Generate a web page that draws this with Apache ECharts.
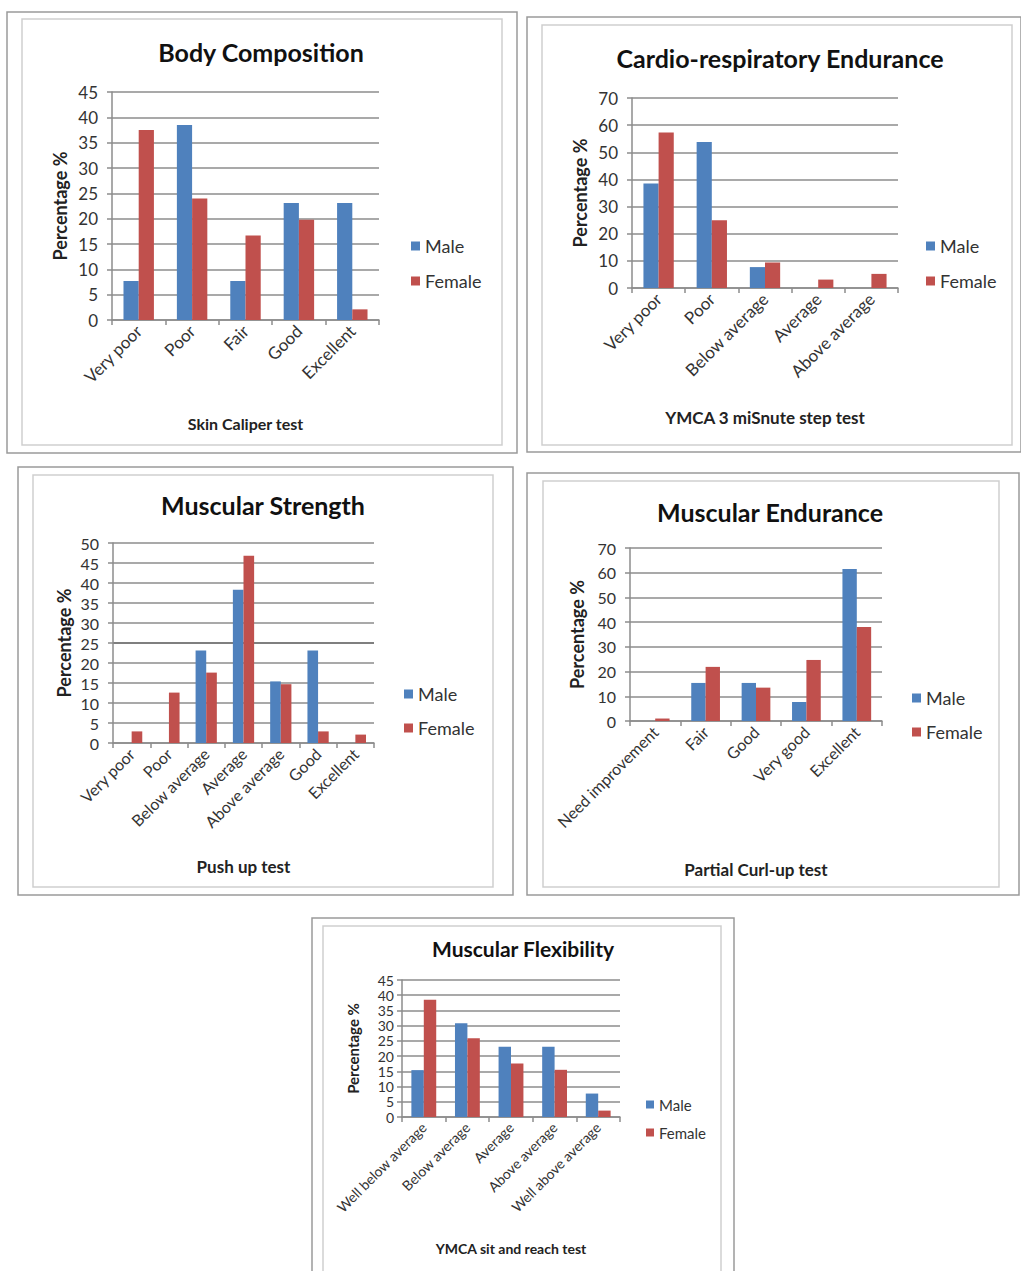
<!DOCTYPE html>
<html><head><meta charset="utf-8">
<script src="https://cdn.jsdelivr.net/npm/echarts@6/dist/echarts.min.js"></script>
<style>html,body{margin:0;padding:0;background:#fff}#c{width:1021px;height:1271px}</style>
</head><body><div id="c"></div>
<script>
// ---- data ----
const bodyCategories = ['Very poor', 'Poor', 'Fair', 'Good', 'Excellent'];
const bodyMale = [7.7, 38.5, 7.7, 23.1, 23.1];
const bodyFemale = [37.5, 24.0, 16.7, 19.8, 2.1];

const cardioCategories = ['Very poor', 'Poor', 'Below average', 'Average', 'Above average'];
const cardioMale = [38.5, 53.8, 7.7, 0, 0];
const cardioFemale = [57.3, 25.0, 9.4, 3.1, 5.2];

const strengthCategories = ['Very poor', 'Poor', 'Below average', 'Average', 'Above average', 'Good', 'Excellent'];
const strengthMale = [0, 0, 23.1, 38.3, 15.4, 23.1, 0];
const strengthFemale = [2.9, 12.6, 17.6, 46.8, 14.7, 2.9, 2.1];

const enduranceCategories = ['Need improvement', 'Fair', 'Good', 'Very good', 'Excellent'];
const enduranceMale = [0, 15.4, 15.4, 7.7, 61.5];
const enduranceFemale = [1.0, 21.9, 13.5, 24.7, 38.0];

const flexCategories = ['Well below average', 'Below average', 'Average', 'Above average', 'Well above average'];
const flexMale = [15.4, 30.8, 23.1, 23.1, 7.7];
const flexFemale = [38.5, 25.9, 17.6, 15.5, 2.1];

const seriesNames = ['Male', 'Female'];
const yAxisTitle = 'Percentage %';
const chartTitles = ['Body Composition', 'Cardio-respiratory Endurance', 'Muscular Strength', 'Muscular Endurance', 'Muscular Flexibility'];
const xAxisTitles = ['Skin Caliper test', 'YMCA 3 miSnute step test', 'Push up test', 'Partial Curl-up test', 'YMCA sit and reach test'];
const yMaxes = [45, 70, 50, 70, 45];
const yIntervals = [5, 10, 5, 10, 5];

// ---- layout ----
const FONT = 'Lato, "Open Sans", sans-serif';
const BLUE = '#4F81BD', RED = '#C0504D', GRID = '#8c8c8c';
const panels = [
  {cats: bodyCategories, male: bodyMale, female: bodyFemale,
   outer: [7, 12, 510, 441], inner: [22, 19, 480, 426],
   grid: {left: 112, top: 92, width: 267, height: 228},
   tc: [261, 52], tfs: 25, tick: 17, tickM: 14, cat: 17, xfs: 16, yfs: 18, xGap: 95, yGap: 43,
   lg: {left: 411, top: 236, fs: 18, gap: 15, sq: 9}},
  {cats: cardioCategories, male: cardioMale, female: cardioFemale,
   outer: [527, 17, 494, 435], inner: [542, 25, 470, 420],
   grid: {left: 632, top: 98, width: 266, height: 190},
   tc: [780, 58], tfs: 25, tick: 17, tickM: 14, cat: 17, xfs: 17, yfs: 18, xGap: 121, yGap: 43,
   lg: {left: 926, top: 236, fs: 18, gap: 15, sq: 9}},
  {cats: strengthCategories, male: strengthMale, female: strengthFemale,
   outer: [18, 467, 495, 428], inner: [33, 475, 460, 412],
   grid: {left: 113, top: 543, width: 261, height: 200},
   tc: [263, 505], tfs: 25, tick: 16, tickM: 14, cat: 16, xfs: 17, yfs: 18, xGap: 115, yGap: 40,
   lg: {left: 404, top: 684, fs: 18, gap: 14, sq: 9}},
  {cats: enduranceCategories, male: enduranceMale, female: enduranceFemale,
   outer: [527, 473, 492, 422], inner: [543, 481, 456, 406],
   grid: {left: 630, top: 548, width: 252, height: 173},
   tc: [770, 512], tfs: 25, tick: 16, tickM: 14, cat: 16, xfs: 17, yfs: 18, xGap: 140, yGap: 44,
   lg: {left: 912, top: 688, fs: 18, gap: 14, sq: 9}},
  {cats: flexCategories, male: flexMale, female: flexFemale,
   outer: [312, 918, 422, 420], inner: [323, 926, 398, 420],
   grid: {left: 402, top: 980, width: 218, height: 137},
   tc: [523, 948], tfs: 21, tick: 14, tickM: 8, cat: 14, xfs: 14, yfs: 15, xGap: 124, yGap: 42,
   lg: {left: 646, top: 1096, fs: 15, gap: 11, sq: 8}}
];

const option = {
  animation: false,
  backgroundColor: '#fff',
  grid: [], xAxis: [], yAxis: [], series: [], legend: [], graphic: []
};

panels.forEach((p, i) => {
  option.graphic.push({type: 'rect', z: -1, shape: {x: p.outer[0], y: p.outer[1], width: p.outer[2], height: p.outer[3]},
    style: {fill: '#fff', stroke: '#9a9a9a', lineWidth: 1.5}});
  option.graphic.push({type: 'rect', z: -1, shape: {x: p.inner[0], y: p.inner[1], width: p.inner[2], height: p.inner[3]},
    style: {fill: 'none', stroke: '#cfcfcf', lineWidth: 1.5}});
  option.graphic.push({type: 'text', x: p.tc[0], y: p.tc[1],
    style: {text: chartTitles[i], fill: '#111', font: 'bold ' + p.tfs + 'px ' + FONT, align: 'center', verticalAlign: 'middle'}});

  option.grid.push(Object.assign({outerBoundsMode: 'none', containLabel: false}, p.grid));
  option.xAxis.push({
    type: 'category', gridIndex: i, data: p.cats,
    axisLine: {show: true, lineStyle: {color: GRID, width: 1.5}},
    axisTick: {show: true, interval: 0, alignWithLabel: false, length: 5, lineStyle: {color: GRID, width: 1.5}},
    axisLabel: {interval: 0, rotate: 45, fontSize: p.cat, color: '#333', fontFamily: FONT, margin: 8},
    splitLine: {show: false},
    name: xAxisTitles[i], nameLocation: 'middle', nameGap: p.xGap,
    nameTextStyle: {fontWeight: 'bold', fontSize: p.xfs, color: '#222', fontFamily: FONT}
  });
  const splitColors = [];
  for (let v = 0; v <= yMaxes[i]; v += yIntervals[i]) splitColors.push(i === 2 && v === 25 ? '#555' : GRID);
  option.yAxis.push({
    type: 'value', gridIndex: i, min: 0, max: yMaxes[i], interval: yIntervals[i],
    axisLine: {show: true, lineStyle: {color: GRID, width: 1.5}},
    axisTick: {show: true, length: 5, lineStyle: {color: GRID, width: 1.5}},
    splitLine: {show: true, lineStyle: {color: splitColors, width: 1.5}},
    axisLabel: {fontSize: p.tick, color: '#333', fontFamily: FONT, margin: p.tickM},
    name: yAxisTitle, nameLocation: 'middle', nameRotate: 90, nameGap: p.yGap,
    nameTextStyle: {fontWeight: 'bold', fontSize: p.yfs, color: '#222', fontFamily: FONT}
  });
  [p.male, p.female].forEach((vals, k) => {
    option.series.push({
      type: 'bar', name: seriesNames[k], xAxisIndex: i, yAxisIndex: i, data: vals,
      barGap: '0%', barCategoryGap: '43%',
      itemStyle: {color: k === 0 ? BLUE : RED}
    });
  });
  option.legend.push({
    orient: 'vertical', left: p.lg.left, top: p.lg.top, padding: 0,
    itemWidth: p.lg.sq, itemHeight: p.lg.sq, itemGap: p.lg.gap, icon: 'rect',
    data: seriesNames, selectedMode: false,
    textStyle: {fontSize: p.lg.fs, lineHeight: p.lg.fs + 2, color: '#333', fontFamily: FONT}
  });
});

const chart = echarts.init(document.getElementById('c'), null, {renderer: 'svg'});
chart.setOption(option);
</script>
</body></html>
